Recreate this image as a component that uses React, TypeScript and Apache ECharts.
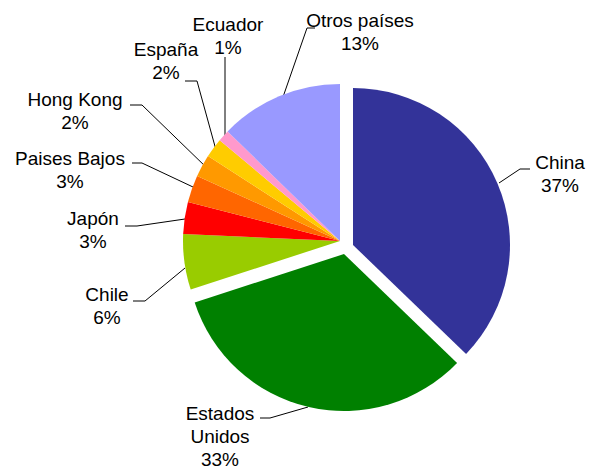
import React, { useEffect, useRef } from 'react';
import * as echarts from 'echarts';

// ---- data ----
const categories = ['China', 'Estados Unidos', 'Chile', 'Japón', 'Paises Bajos', 'Hong Kong', 'España', 'Ecuador', 'Otros países'];
const shares = [37.2, 32.8, 5.7, 3.3, 2.8, 2.3, 2.0, 1.2, 12.7];
const sliceColors = ['#333399', '#008000', '#99CC00', '#FF0000', '#FF6600', '#FF9900', '#FFCC00', '#FF99CC', '#9999FF'];
const explodedSlices = ['China', 'Estados Unidos'];

// ---- layout ----
const RADIUS = 157;
const baseCenter = [340, 241];
const explodedCenters: Record<string, number[]> = {
  'China': [353, 245],
  'Estados Unidos': [344, 254],
};
const labelAnchors = [
  [560, 174], [220, 436], [107, 306], [93, 230], [70, 169.5],
  [75, 110.5], [166, 61], [228, 35.5], [360, 32],
];
const leaderLines = [
  [[499, 183], [520, 169], [530, 169]],
  [[308, 407], [270, 418], [260, 418]],
  [[185, 268], [145, 301], [133, 301]],
  [[185, 219], [137, 226], [125, 226]],
  [[193, 187], [142, 163], [132, 163]],
  [[208, 169], [142, 105], [130, 105]],
  [[216, 150], [197, 81], [185, 81]],
  [[225, 140], [225, 57], [225, 57]],
  [[283, 97], [307, 28], [315, 28]],
];

const FONT = "'Liberation Sans', Arial, sans-serif";

export default function App() {
  const ref = useRef<HTMLDivElement>(null);
  useEffect(() => {
    if (!ref.current) return;
    const chart = echarts.init(ref.current, undefined, { renderer: 'svg' });

    const makeData = (visible: (name: string) => boolean) =>
      categories.map((name, i) => ({
        name,
        value: shares[i],
        itemStyle: { color: visible(name) ? sliceColors[i] : 'rgba(0,0,0,0)' },
      }));

    const common = {
      type: 'pie' as const,
      radius: RADIUS,
      startAngle: 90,
      clockwise: true,
      avoidLabelOverlap: false,
      percentPrecision: 0,
      emphasis: { disabled: true },
      silent: true,
    };

    const mainSeries = {
      ...common,
      center: baseCenter,
      data: makeData((n) => !explodedSlices.includes(n)),
      label: {
        show: true,
        position: 'outside',
        formatter: (p: any) => `${p.name === 'Estados Unidos' ? 'Estados\nUnidos' : p.name}\n${p.percent}%`,
        fontFamily: FONT,
        fontSize: 19,
        lineHeight: 23,
        color: '#000',
      },
      labelLine: {
        show: true,
        length: 10,
        length2: 10,
        smooth: false,
        lineStyle: { color: '#000', width: 1 },
      },
      labelLayout: (params: any) => {
        const i = params.dataIndex;
        return {
          x: labelAnchors[i][0],
          y: labelAnchors[i][1],
          align: 'center',
          verticalAlign: 'middle',
          labelLinePoints: leaderLines[i],
        };
      },
    };

    const explodedSeries = explodedSlices.map((name) => ({
      ...common,
      center: explodedCenters[name],
      data: makeData((n) => n === name),
      label: { show: false },
      labelLine: { show: false },
    }));

    chart.setOption({
      animation: false,
      backgroundColor: '#ffffff',
      series: [mainSeries, ...explodedSeries],
    });
    return () => chart.dispose();
  }, []);

  return (
    <div
      ref={ref}
      style={{ position: 'absolute', left: 0, top: 0, width: 591, height: 469, background: '#fff' }}
    />
  );
}
